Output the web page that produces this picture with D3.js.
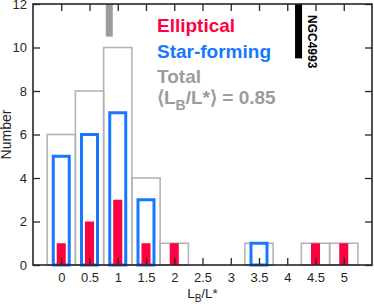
<!DOCTYPE html>
<html>
<head>
<meta charset="utf-8">
<script src="https://cdn.jsdelivr.net/npm/d3@7"></script>
<style>
  body { margin: 0; background: #fff; }
  svg { display: block; font-family: "Liberation Sans", Arial, Helvetica, sans-serif; }
</style>
</head>
<body>
<div id="chart"></div>
<script>
// histogram of L_B/L* for host galaxies
const bins = [0, 0.5, 1, 1.5, 2, 2.5, 3, 3.5, 4, 4.5, 5];
const totalCounts = [6, 8, 10, 4, 1, 0, 0, 1, 0, 1, 1];
const starFormingCounts = [5, 6, 7, 3, 0, 0, 0, 1, 0, 0, 0];
const ellipticalCounts = [1, 2, 3, 1, 1, 0, 0, 0, 0, 1, 1];
const xTicks = [0, 0.5, 1, 1.5, 2, 2.5, 3, 3.5, 4, 4.5, 5];
const yTicks = [0, 2, 4, 6, 8, 10, 12];
const meanLB = 0.85;
const ngc4993LB = 4.2;

const width = 374, height = 306;
const margin = {top: 4, right: 2, bottom: 41, left: 33};

const red = "#ff0040", blue = "#1777ff", gray = "#9c9c9c", axisColor = "#262626";

const svg = d3.select("#chart").append("svg")
    .attr("width", width)
    .attr("height", height);

const x = d3.scaleLinear().domain([-0.5, 5.5]).range([margin.left, width - margin.right]);
const y = d3.scaleLinear().domain([0, 12]).range([height - margin.bottom, margin.top]);

const binW = 0.5, blueW = 0.283, redW = 0.16;

const rows = bins.map((b, i) => ({b, total: totalCounts[i], sf: starFormingCounts[i], ell: ellipticalCounts[i]}));

// total (gray outline)
svg.append("g").selectAll("rect")
    .data(rows.filter(d => d.total > 0))
    .join("rect")
    .attr("x", d => x(d.b - binW / 2))
    .attr("width", d => x(d.b + binW / 2) - x(d.b - binW / 2))
    .attr("y", d => y(d.total))
    .attr("height", d => y(0) - y(d.total))
    .attr("fill", "none")
    .attr("stroke", "#b4b4b4")
    .attr("stroke-width", 1.6);

// star-forming (blue outline)
svg.append("g").selectAll("rect")
    .data(rows.filter(d => d.sf > 0))
    .join("rect")
    .attr("x", d => x(d.b - blueW / 2))
    .attr("width", d => x(d.b + blueW / 2) - x(d.b - blueW / 2))
    .attr("y", d => y(d.sf))
    .attr("height", d => y(0) - y(d.sf))
    .attr("fill", "none")
    .attr("stroke", blue)
    .attr("stroke-width", 3);

// elliptical (red fill)
svg.append("g").selectAll("rect")
    .data(rows.filter(d => d.ell > 0))
    .join("rect")
    .attr("x", d => x(d.b - redW / 2))
    .attr("width", d => x(d.b + redW / 2) - x(d.b - redW / 2))
    .attr("y", d => y(d.ell))
    .attr("height", d => y(0) - y(d.ell))
    .attr("fill", red);

// mean marker and NGC4993 marker at top
svg.append("rect")
    .attr("x", x(meanLB - 0.062)).attr("width", x(meanLB + 0.062) - x(meanLB - 0.062))
    .attr("y", y(12)).attr("height", y(10.5) - y(12))
    .attr("fill", gray);

svg.append("rect")
    .attr("x", x(ngc4993LB - 0.062)).attr("width", x(ngc4993LB + 0.062) - x(ngc4993LB - 0.062))
    .attr("y", y(12)).attr("height", y(9.5) - y(12))
    .attr("fill", "#000");

svg.append("text")
    .attr("transform", `translate(${x(ngc4993LB) + 9},${y(12) + 11}) rotate(90)`)
    .attr("font-size", 12)
    .attr("font-weight", "bold")
    .attr("fill", "#000")
    .text("NGC4993");

// axes
const fmt = d => String(d);
const xBottom = d3.axisBottom(x).tickValues(xTicks).tickFormat(fmt).tickSizeInner(-7).tickSizeOuter(0).tickPadding(8);
const xTop = d3.axisTop(x).tickValues(xTicks).tickFormat("").tickSizeInner(-7).tickSizeOuter(0);
const yLeft = d3.axisLeft(y).tickValues(yTicks).tickFormat(fmt).tickSizeInner(-7).tickSizeOuter(0).tickPadding(6);
const yRight = d3.axisRight(y).tickValues(yTicks).tickFormat("").tickSizeInner(-7).tickSizeOuter(0);

function styleAxis(g) {
    g.select(".domain").remove();
    g.selectAll(".tick line").attr("stroke", axisColor).attr("stroke-width", 1.3);
    g.selectAll(".tick text").attr("fill", axisColor).attr("font-size", 13).attr("font-family", null);
}

svg.append("g").attr("transform", `translate(0,${y(0)})`).call(xBottom).call(styleAxis);
svg.append("g").attr("transform", `translate(0,${y(12)})`).call(xTop).call(styleAxis);
svg.append("g").attr("transform", `translate(${x(-0.5)},0)`).call(yLeft).call(styleAxis);
svg.append("g").attr("transform", `translate(${x(5.5)},0)`).call(yRight).call(styleAxis);

svg.append("rect")
    .attr("x", x(-0.5)).attr("y", y(12))
    .attr("width", x(5.5) - x(-0.5)).attr("height", y(0) - y(12))
    .attr("fill", "none")
    .attr("stroke", axisColor)
    .attr("stroke-width", 1.6);

// axis labels
svg.append("text")
    .attr("transform", `translate(11,${(y(0) + y(12)) / 2}) rotate(-90)`)
    .attr("text-anchor", "middle")
    .attr("font-size", 14)
    .attr("fill", axisColor)
    .text("Number");

const xl = svg.append("text")
    .attr("x", (x(-0.5) + x(5.5)) / 2)
    .attr("y", 298)
    .attr("text-anchor", "middle")
    .attr("font-size", 13.5)
    .attr("fill", axisColor);
xl.append("tspan").text("L");
xl.append("tspan").attr("dy", 4).attr("font-size", 10).text("B");
xl.append("tspan").attr("dy", -4).text("/L*");

// legend
const lx = 157;
svg.append("text").attr("x", lx).attr("y", 32).attr("font-size", 19).attr("font-weight", "bold")
    .attr("fill", red).text("Elliptical");
svg.append("text").attr("x", lx).attr("y", 57.5).attr("font-size", 19).attr("font-weight", "bold")
    .attr("fill", blue).text("Star-forming");
svg.append("text").attr("x", lx).attr("y", 83).attr("font-size", 19).attr("font-weight", "bold")
    .attr("fill", gray).text("Total");
const mt = svg.append("text").attr("x", lx).attr("y", 104).attr("font-size", 19).attr("font-weight", "bold")
    .attr("fill", gray);
mt.append("tspan").text("\u27E8L");
mt.append("tspan").attr("dy", 6).attr("font-size", 14).text("B");
mt.append("tspan").attr("dy", -6).text("/L*\u27E9 = " + meanLB);
</script>
</body>
</html>
